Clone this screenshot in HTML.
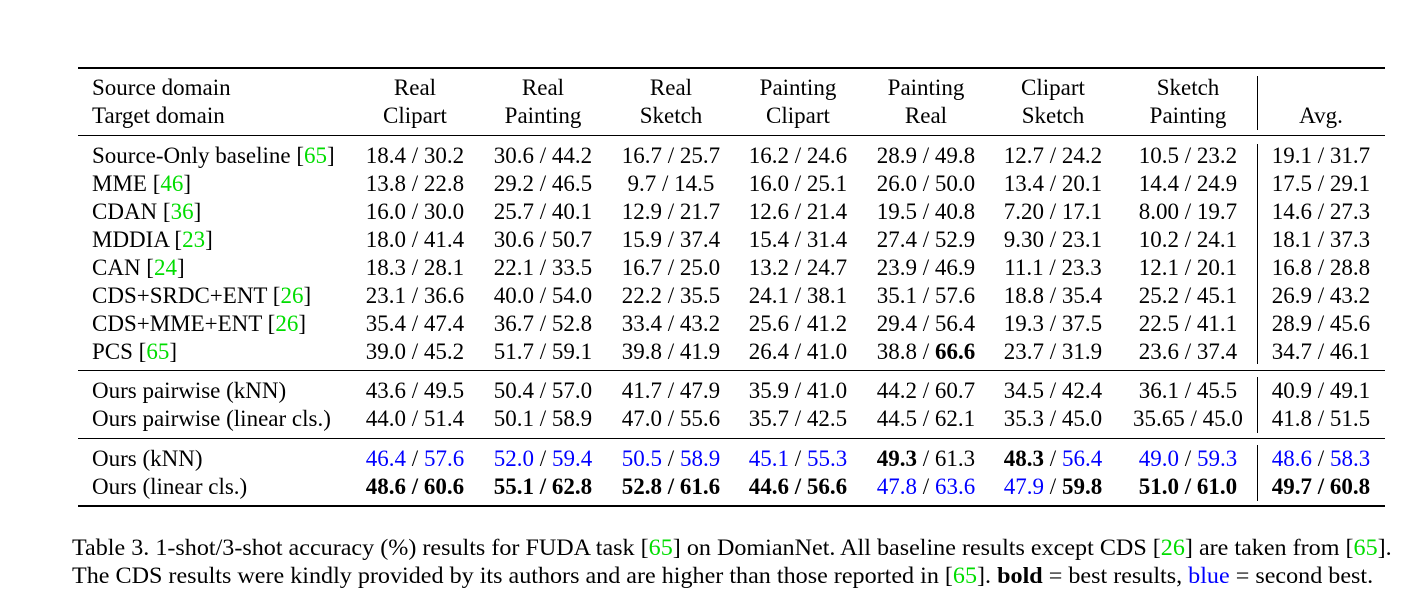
<!DOCTYPE html>
<html><head><meta charset="utf-8"><style>
body{margin:0;width:1427px;height:602px;background:#fff;position:relative;overflow:hidden;font-family:"Liberation Serif",serif;font-size:23px;color:#000}
.r{position:absolute;height:28px;line-height:28px;white-space:nowrap}
.c{position:absolute;width:160px;margin-left:-80px;text-align:center;white-space:nowrap;height:28px;line-height:28px}
.h{position:absolute;left:78px;width:1307px;background:#000}
.v{position:absolute;left:1257px;width:1px;background:#000}
.g{color:#00dd00}.b{color:#0000ff}
.cap{transform-origin:0 50%;transform:scaleX(1.048)}
strong{font-weight:bold}
</style></head><body>
<div class="h" style="top:67px;height:2px"></div>
<div class="h" style="top:135px;height:1px"></div>
<div class="h" style="top:370px;height:1px"></div>
<div class="h" style="top:438px;height:1px"></div>
<div class="h" style="top:505px;height:2px"></div>
<div class="v" style="top:76px;height:54px"></div>
<div class="v" style="top:144px;height:220px"></div>
<div class="v" style="top:377px;height:56px"></div>
<div class="v" style="top:445px;height:56px"></div>

<div class="r" style="top:74px;left:92px">Source domain</div>
<div class="r" style="top:102px;left:92px">Target domain</div>
<div class="c" style="top:74px;left:415px">Real</div><div class="c" style="top:102px;left:415px">Clipart</div>
<div class="c" style="top:74px;left:543px">Real</div><div class="c" style="top:102px;left:543px">Painting</div>
<div class="c" style="top:74px;left:671px">Real</div><div class="c" style="top:102px;left:671px">Sketch</div>
<div class="c" style="top:74px;left:798px">Painting</div><div class="c" style="top:102px;left:798px">Clipart</div>
<div class="c" style="top:74px;left:926px">Painting</div><div class="c" style="top:102px;left:926px">Real</div>
<div class="c" style="top:74px;left:1053px">Clipart</div><div class="c" style="top:102px;left:1053px">Sketch</div>
<div class="c" style="top:74px;left:1188px">Sketch</div><div class="c" style="top:102px;left:1188px">Painting</div>
<div class="c" style="top:102px;left:1321px">Avg.</div>

<div class="r" style="top:142px;left:92px">Source-Only baseline [<span class="g">65</span>]</div>
<div class="c" style="top:142px;left:415px">18.4 / 30.2</div><div class="c" style="top:142px;left:543px">30.6 / 44.2</div><div class="c" style="top:142px;left:671px">16.7 / 25.7</div><div class="c" style="top:142px;left:798px">16.2 / 24.6</div><div class="c" style="top:142px;left:926px">28.9 / 49.8</div><div class="c" style="top:142px;left:1053px">12.7 / 24.2</div><div class="c" style="top:142px;left:1188px">10.5 / 23.2</div><div class="c" style="top:142px;left:1321px">19.1 / 31.7</div>

<div class="r" style="top:170px;left:92px">MME [<span class="g">46</span>]</div>
<div class="c" style="top:170px;left:415px">13.8 / 22.8</div><div class="c" style="top:170px;left:543px">29.2 / 46.5</div><div class="c" style="top:170px;left:671px">9.7 / 14.5</div><div class="c" style="top:170px;left:798px">16.0 / 25.1</div><div class="c" style="top:170px;left:926px">26.0 / 50.0</div><div class="c" style="top:170px;left:1053px">13.4 / 20.1</div><div class="c" style="top:170px;left:1188px">14.4 / 24.9</div><div class="c" style="top:170px;left:1321px">17.5 / 29.1</div>

<div class="r" style="top:198px;left:92px">CDAN [<span class="g">36</span>]</div>
<div class="c" style="top:198px;left:415px">16.0 / 30.0</div><div class="c" style="top:198px;left:543px">25.7 / 40.1</div><div class="c" style="top:198px;left:671px">12.9 / 21.7</div><div class="c" style="top:198px;left:798px">12.6 / 21.4</div><div class="c" style="top:198px;left:926px">19.5 / 40.8</div><div class="c" style="top:198px;left:1053px">7.20 / 17.1</div><div class="c" style="top:198px;left:1188px">8.00 / 19.7</div><div class="c" style="top:198px;left:1321px">14.6 / 27.3</div>

<div class="r" style="top:226px;left:92px">MDDIA [<span class="g">23</span>]</div>
<div class="c" style="top:226px;left:415px">18.0 / 41.4</div><div class="c" style="top:226px;left:543px">30.6 / 50.7</div><div class="c" style="top:226px;left:671px">15.9 / 37.4</div><div class="c" style="top:226px;left:798px">15.4 / 31.4</div><div class="c" style="top:226px;left:926px">27.4 / 52.9</div><div class="c" style="top:226px;left:1053px">9.30 / 23.1</div><div class="c" style="top:226px;left:1188px">10.2 / 24.1</div><div class="c" style="top:226px;left:1321px">18.1 / 37.3</div>

<div class="r" style="top:254px;left:92px">CAN [<span class="g">24</span>]</div>
<div class="c" style="top:254px;left:415px">18.3 / 28.1</div><div class="c" style="top:254px;left:543px">22.1 / 33.5</div><div class="c" style="top:254px;left:671px">16.7 / 25.0</div><div class="c" style="top:254px;left:798px">13.2 / 24.7</div><div class="c" style="top:254px;left:926px">23.9 / 46.9</div><div class="c" style="top:254px;left:1053px">11.1 / 23.3</div><div class="c" style="top:254px;left:1188px">12.1 / 20.1</div><div class="c" style="top:254px;left:1321px">16.8 / 28.8</div>

<div class="r" style="top:282px;left:92px">CDS+SRDC+ENT [<span class="g">26</span>]</div>
<div class="c" style="top:282px;left:415px">23.1 / 36.6</div><div class="c" style="top:282px;left:543px">40.0 / 54.0</div><div class="c" style="top:282px;left:671px">22.2 / 35.5</div><div class="c" style="top:282px;left:798px">24.1 / 38.1</div><div class="c" style="top:282px;left:926px">35.1 / 57.6</div><div class="c" style="top:282px;left:1053px">18.8 / 35.4</div><div class="c" style="top:282px;left:1188px">25.2 / 45.1</div><div class="c" style="top:282px;left:1321px">26.9 / 43.2</div>

<div class="r" style="top:310px;left:92px">CDS+MME+ENT [<span class="g">26</span>]</div>
<div class="c" style="top:310px;left:415px">35.4 / 47.4</div><div class="c" style="top:310px;left:543px">36.7 / 52.8</div><div class="c" style="top:310px;left:671px">33.4 / 43.2</div><div class="c" style="top:310px;left:798px">25.6 / 41.2</div><div class="c" style="top:310px;left:926px">29.4 / 56.4</div><div class="c" style="top:310px;left:1053px">19.3 / 37.5</div><div class="c" style="top:310px;left:1188px">22.5 / 41.1</div><div class="c" style="top:310px;left:1321px">28.9 / 45.6</div>

<div class="r" style="top:338px;left:92px">PCS [<span class="g">65</span>]</div>
<div class="c" style="top:338px;left:415px">39.0 / 45.2</div><div class="c" style="top:338px;left:543px">51.7 / 59.1</div><div class="c" style="top:338px;left:671px">39.8 / 41.9</div><div class="c" style="top:338px;left:798px">26.4 / 41.0</div><div class="c" style="top:338px;left:926px">38.8 / <strong>66.6</strong></div><div class="c" style="top:338px;left:1053px">23.7 / 31.9</div><div class="c" style="top:338px;left:1188px">23.6 / 37.4</div><div class="c" style="top:338px;left:1321px">34.7 / 46.1</div>

<div class="r" style="top:377px;left:92px">Ours pairwise (kNN)</div>
<div class="c" style="top:377px;left:415px">43.6 / 49.5</div><div class="c" style="top:377px;left:543px">50.4 / 57.0</div><div class="c" style="top:377px;left:671px">41.7 / 47.9</div><div class="c" style="top:377px;left:798px">35.9 / 41.0</div><div class="c" style="top:377px;left:926px">44.2 / 60.7</div><div class="c" style="top:377px;left:1053px">34.5 / 42.4</div><div class="c" style="top:377px;left:1188px">36.1 / 45.5</div><div class="c" style="top:377px;left:1321px">40.9 / 49.1</div>

<div class="r" style="top:405px;left:92px">Ours pairwise (linear cls.)</div>
<div class="c" style="top:405px;left:415px">44.0 / 51.4</div><div class="c" style="top:405px;left:543px">50.1 / 58.9</div><div class="c" style="top:405px;left:671px">47.0 / 55.6</div><div class="c" style="top:405px;left:798px">35.7 / 42.5</div><div class="c" style="top:405px;left:926px">44.5 / 62.1</div><div class="c" style="top:405px;left:1053px">35.3 / 45.0</div><div class="c" style="top:405px;left:1188px">35.65 / 45.0</div><div class="c" style="top:405px;left:1321px">41.8 / 51.5</div>

<div class="r" style="top:445px;left:92px">Ours (kNN)</div>
<div class="c" style="top:445px;left:415px"><span class="b">46.4</span> / <span class="b">57.6</span></div><div class="c" style="top:445px;left:543px"><span class="b">52.0</span> / <span class="b">59.4</span></div><div class="c" style="top:445px;left:671px"><span class="b">50.5</span> / <span class="b">58.9</span></div><div class="c" style="top:445px;left:798px"><span class="b">45.1</span> / <span class="b">55.3</span></div><div class="c" style="top:445px;left:926px"><strong>49.3</strong> / 61.3</div><div class="c" style="top:445px;left:1053px"><strong>48.3</strong> / <span class="b">56.4</span></div><div class="c" style="top:445px;left:1188px"><span class="b">49.0</span> / <span class="b">59.3</span></div><div class="c" style="top:445px;left:1321px"><span class="b">48.6</span> / <span class="b">58.3</span></div>

<div class="r" style="top:473px;left:92px">Ours (linear cls.)</div>
<div class="c" style="top:473px;left:415px"><strong>48.6 / 60.6</strong></div><div class="c" style="top:473px;left:543px"><strong>55.1 / 62.8</strong></div><div class="c" style="top:473px;left:671px"><strong>52.8 / 61.6</strong></div><div class="c" style="top:473px;left:798px"><strong>44.6 / 56.6</strong></div><div class="c" style="top:473px;left:926px"><span class="b">47.8</span> / <span class="b">63.6</span></div><div class="c" style="top:473px;left:1053px"><span class="b">47.9</span> / <strong>59.8</strong></div><div class="c" style="top:473px;left:1188px"><strong>51.0 / 61.0</strong></div><div class="c" style="top:473px;left:1321px"><strong>49.7 / 60.8</strong></div>

<div class="r cap" style="top:534px;left:72px">Table 3. 1-shot/3-shot accuracy (%) results for FUDA task [<span class="g">65</span>] on DomianNet. All baseline results except CDS [<span class="g">26</span>] are taken from [<span class="g">65</span>].</div>
<div class="r cap" style="top:562px;left:72px">The CDS results were kindly provided by its authors and are higher than those reported in [<span class="g">65</span>]. <strong>bold</strong> = best results, <span class="b">blue</span> = second best.</div>
</body></html>
